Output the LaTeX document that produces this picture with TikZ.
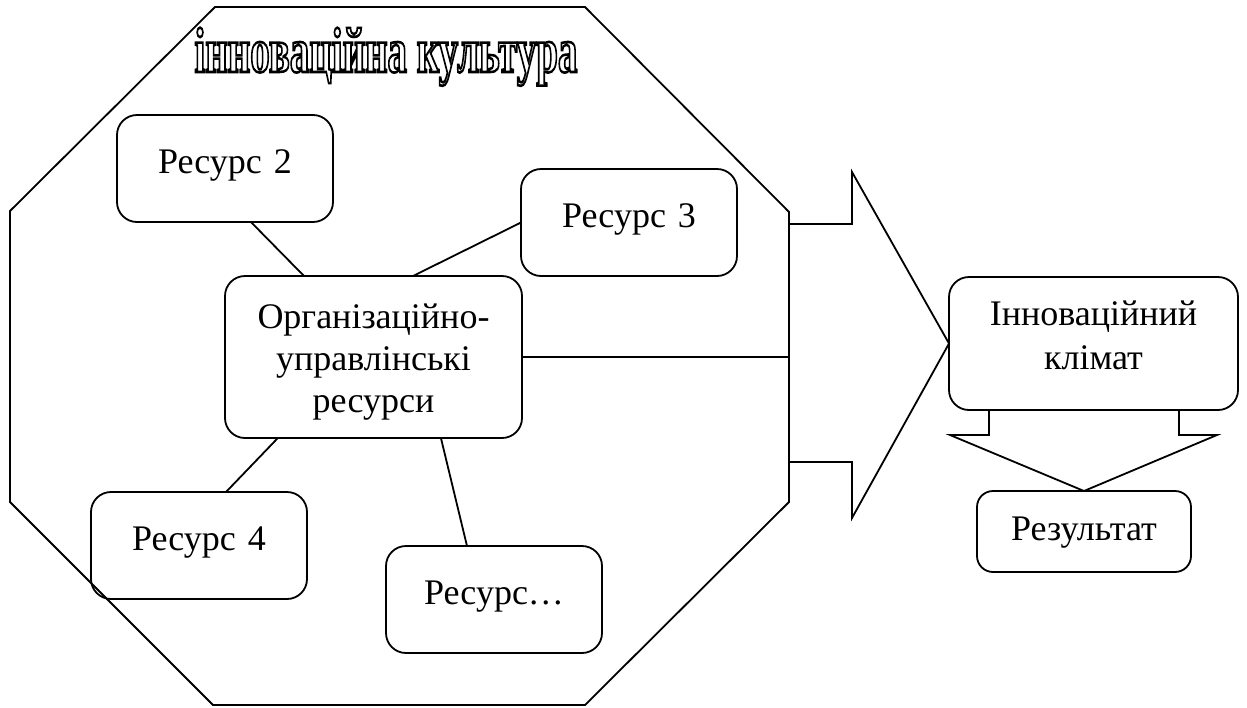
\documentclass[tikz,border=0pt]{standalone}
\usepackage{fontspec}
\setmainfont{Liberation Serif}
\usepackage{graphicx}
\usetikzlibrary{positioning,calc}

% hollow letters for the heading
\newcommand{\hollow}[1]{\special{pdf:literal direct 1 Tr}#1\special{pdf:literal direct 0 Tr}}

\begin{document}
\begin{tikzpicture}[
	x=0.5pt, y=-0.5pt,
	font=\fontsize{18}{21}\selectfont,
	box/.style={
		draw,
		rounded corners=10pt,
		line width=0.9pt,
		inner sep=0pt,
		outer sep=0pt,
		anchor=north west,
		align=center,
	},
	resbox/.style={
		box,
		text width=108pt,
		text height=29pt,
		text depth=24.5pt,
	},
	link/.style={line width=0.9pt},
	heading/.style={
		anchor=base,
		inner sep=0pt,
		line width=1.3pt,
		font=\fontsize{32}{36}\selectfont\bfseries,
	},
]
\useasboundingbox (0,0) rectangle (1247,707);

% kultura
\draw[link] (215,7) -- (585,7) -- (789,212) -- (789,502) -- (585,705)
	-- (213,705) -- (10,502) -- (10,211) -- cycle;
\node[heading] (title) at (386,72)
	{\resizebox{191.5pt}{\height}{\hollow{інноваційна культура}}};

\node[resbox] (res2) at (117,115) {Ресурс 2};
\node[resbox] (res3) at (521,169) {Ресурс 3};
\node[resbox] (res4) at (91,492) {Ресурс 4};
\node[resbox] (resn) at (386,546) {Ресурс…};
\node[box, text width=148.5pt, text height=26pt, text depth=55pt] (org) at (225,276)
	{Організаційно-\\управлінські\\ресурси};

\coordinate (edge) at (789,357);

\draw[link] ($(res2.south west)!0.62!(res2.south east)$) -- ($(org.north west)!0.266!(org.north east)$);
\draw[link] (res3.west) -- ($(org.north west)!0.633!(org.north east)$);
\draw[link] ($(org.south west)!0.178!(org.south east)$) -- ($(res4.north west)!0.625!(res4.north east)$);
\draw[link] ($(org.south west)!0.727!(org.south east)$) -- ($(resn.north west)!0.375!(resn.north east)$);
\draw[link] (org.east) -- (edge);

% klimat i rezultat
\node[box, text width=144.5pt, text height=24pt, text depth=42.5pt,
	font=\fontsize{18}{22}\selectfont] (klimat) at (949,277)
	{Інноваційний\\клімат};
\node[box, rounded corners=8pt, text width=107pt, text height=24.5pt, text depth=16pt] (result) at (977,491)
	{Результат};

% velyki strilky
\draw[link, line join=miter] (789,224) -- (852,224) -- (852,172) -- (klimat.west)
	-- (852,518) -- (852,462) -- (789,462);
\draw[link, line join=miter] (989,410) -- (989,435) -- (950,435) -- (result.north)
	-- (1217,435) -- (1179,435) -- (1179,410);

\end{tikzpicture}
\end{document}
